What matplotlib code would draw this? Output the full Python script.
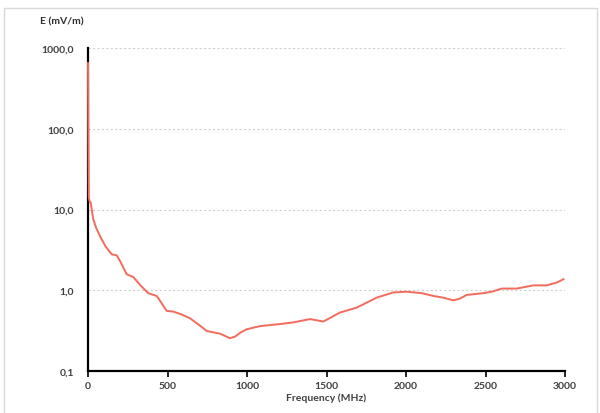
import matplotlib.pyplot as plt
from matplotlib.patches import Rectangle
from matplotlib.ticker import FixedLocator, FuncFormatter, NullLocator

plt.rcParams['font.family'] = ['Lato', 'DejaVu Sans']

# frequency (MHz) and field strength (mV/m)
freq = [0, 2, 5, 10, 17, 25, 33, 50, 75, 110, 149, 180, 201, 243, 285, 330, 379,
        432, 453, 495, 536, 590, 641, 700, 747, 830, 893, 925, 960, 998, 1082,
        1200, 1291, 1396, 1480, 1585, 1690, 1815, 1920, 2004, 2100, 2172, 2235,
        2298, 2340, 2381, 2486, 2540, 2602, 2696, 2801, 2885, 2950, 2990]
field = [650, 120, 14, 12.6, 12.2, 9.5, 7.6, 6.0, 4.7, 3.5, 2.79, 2.71, 2.31,
         1.58, 1.46, 1.15, 0.92, 0.85, 0.74, 0.555, 0.545, 0.50, 0.45, 0.37,
         0.313, 0.29, 0.255, 0.267, 0.30, 0.329, 0.36, 0.38, 0.40, 0.44, 0.41,
         0.53, 0.61, 0.81, 0.94, 0.96, 0.92, 0.85, 0.81, 0.75, 0.79, 0.875,
         0.92, 0.96, 1.05, 1.05, 1.15, 1.15, 1.25, 1.37]

y_ticks = [0.1, 1, 10, 100, 1000]
x_ticks = [0, 500, 1000, 1500, 2000, 2500, 3000]

fig = plt.figure(figsize=(6, 4.14), dpi=100)
ax = fig.add_axes([0.1467, 0.1014, 0.795, 0.7802])

ax.plot(freq, field, color='#F26B5B', lw=1.4, zorder=4, clip_on=False,
        solid_joinstyle='round')

ax.set_yscale('log')
ax.set_ylim(0.1, 1000)
ax.set_xlim(0, 3000)
ax.yaxis.set_major_locator(FixedLocator(y_ticks))
ax.yaxis.set_minor_locator(NullLocator())
ax.yaxis.set_major_formatter(FuncFormatter(lambda v, p: ('%.1f' % v).replace('.', ',')))
ax.set_xticks(x_ticks)

for t in ax.get_xticklabels() + ax.get_yticklabels():
    t.set_fontweight('bold')
    t.set_color('#404040')
    t.set_fontsize(7.5)

ax.tick_params(axis='y', length=0, pad=10)
ax.tick_params(axis='x', length=4, width=1.2, direction='out', pad=3)

ax.grid(axis='y', which='major', color='#d0d0d0', ls=(0, (2, 2)), lw=0.8)
for s in ['top', 'right']:
    ax.spines[s].set_visible(False)
for s in ['left', 'bottom']:
    ax.spines[s].set_linewidth(1.6)
    ax.spines[s].set_color('black')
    ax.spines[s].set_zorder(3)

ax.set_xlabel('Frequency (MHz)', fontsize=7.5, fontweight='bold', color='#404040', labelpad=2)
fig.text(62 / 600, 1 - 22 / 414, 'E (mV/m)', fontsize=7.5, fontweight='bold',
         color='#303030', ha='center', va='center')

fig.patches.append(Rectangle((4 / 600, -0.01), 593 / 600, 1 - 9 / 414 + 0.01,
                             transform=fig.transFigure, fill=False,
                             edgecolor='#d9d9d9', lw=1))

fig.savefig('out.png', dpi=100)
